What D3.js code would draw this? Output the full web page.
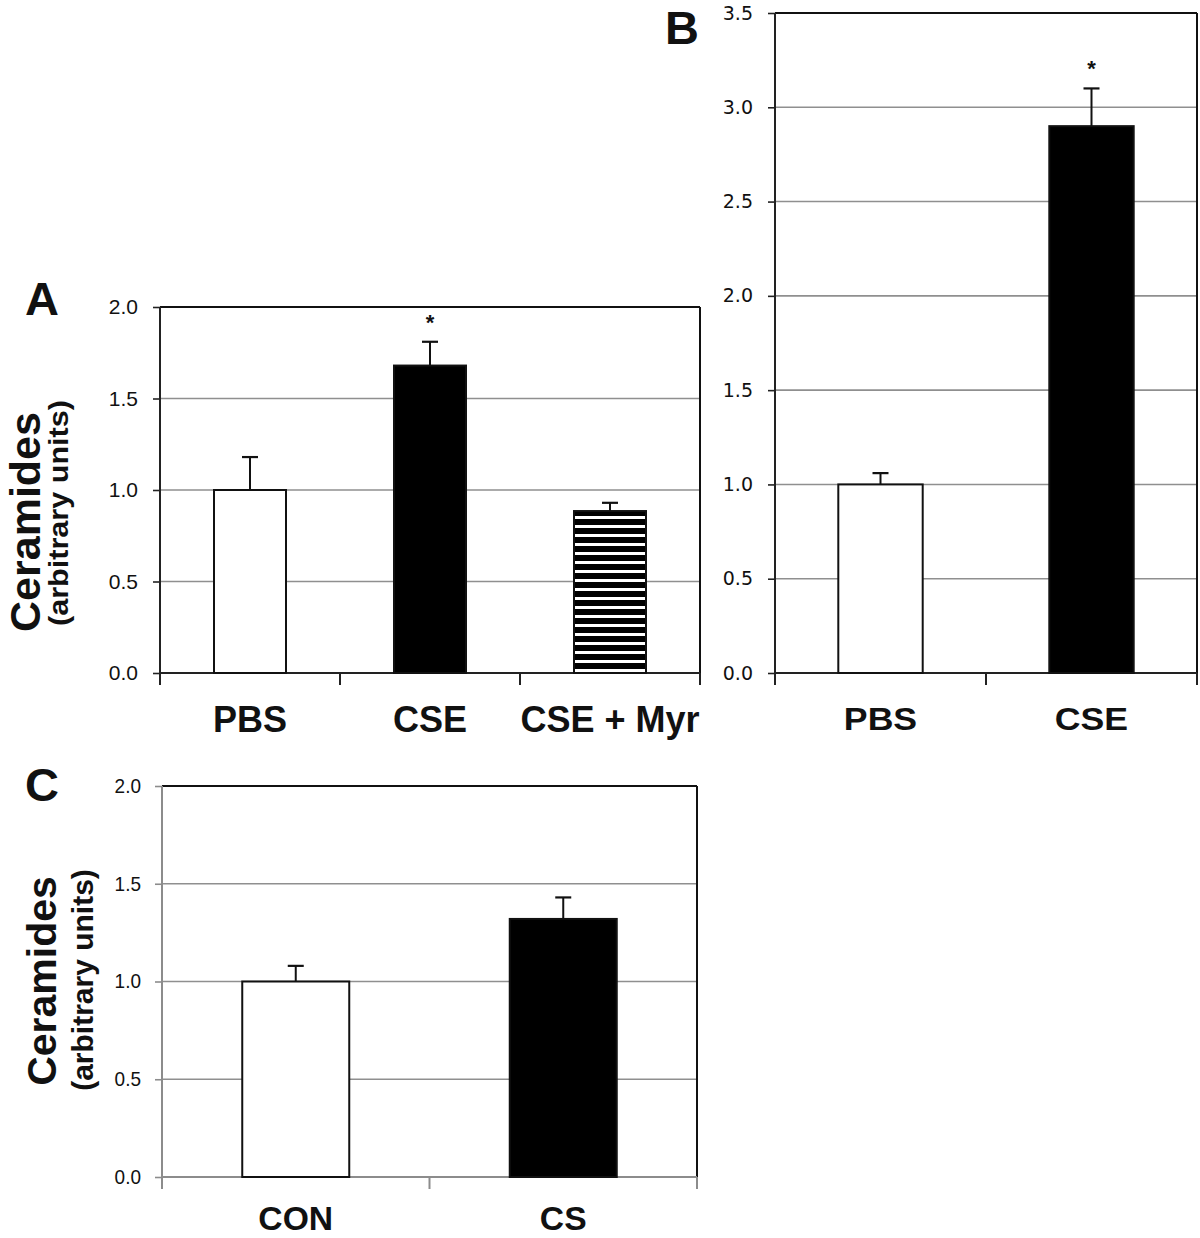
<!DOCTYPE html>
<html><head><meta charset="utf-8">
<script src="https://cdn.jsdelivr.net/npm/d3@7"></script>
<style>
html,body{margin:0;padding:0;background:#fff;}
svg{display:block;}
</style></head>
<body>
<script>
// ---- data ----
const catsA = ["PBS", "CSE", "CSE + Myr"];
const valsA = [1.0, 1.68, 0.885];
const errA  = [0.18, 0.13, 0.045];
const sigA  = [false, true, false];
const fillA = ["white", "black", "stripes"];
const ticksA = [0.0, 0.5, 1.0, 1.5, 2.0];

const catsB = ["PBS", "CSE"];
const valsB = [1.0, 2.9];
const errB  = [0.06, 0.2];
const sigB  = [false, true];
const fillB = ["white", "black"];
const ticksB = [0.0, 0.5, 1.0, 1.5, 2.0, 2.5, 3.0, 3.5];

const catsC = ["CON", "CS"];
const valsC = [1.0, 1.32];
const errC  = [0.08, 0.11];
const sigC  = [false, false];
const fillC = ["white", "black"];
const ticksC = [0.0, 0.5, 1.0, 1.5, 2.0];

const yTitle = "Ceramides";
const ySub = "(arbitrary units)";

const W = 1200, H = 1238;
const svg = d3.select("body").append("svg").attr("width", W).attr("height", H);

const defs = svg.append("defs");
const pat = defs.append("pattern").attr("id", "stripes").attr("patternUnits", "userSpaceOnUse")
  .attr("width", 10).attr("height", 9);
pat.append("rect").attr("width", 10).attr("height", 9).attr("fill", "black");
pat.append("rect").attr("y", 3).attr("width", 10).attr("height", 3).attr("fill", "white");

const SANS = "'Liberation Sans',Arial,Helvetica,sans-serif";
const DEJA = "'DejaVu Sans',sans-serif";

function panel(o) {
  const g = svg.append("g");
  const x = d3.scaleBand().domain(o.cats).range([o.left, o.right]).paddingInner(0.6).paddingOuter(0.3);
  const y = d3.scaleLinear().domain(o.domain).range([o.bottom, o.top]);
  const step = x.step();

  // gridlines
  g.append("g").selectAll("line").data(o.ticks.filter(t => t > o.domain[0] && t < o.domain[1]))
    .join("line").attr("x1", o.left).attr("x2", o.right)
    .attr("y1", d => y(d)).attr("y2", d => y(d))
    .attr("stroke", "#8f8f8f").attr("stroke-width", 1.6);

  // frame top & right
  g.append("line").attr("x1", o.left).attr("x2", o.right).attr("y1", y(o.domain[1])).attr("y2", y(o.domain[1]))
    .attr("stroke", "#111").attr("stroke-width", 2);
  g.append("line").attr("x1", o.right).attr("x2", o.right).attr("y1", y(o.domain[1])).attr("y2", o.bottom)
    .attr("stroke", "#111").attr("stroke-width", 2);

  // y axis
  const yAxis = d3.axisLeft(y).tickValues(o.ticks).tickFormat(d3.format(".1f")).tickSize(7).tickPadding(o.tickPad);
  const ya = g.append("g").attr("transform", `translate(${o.left},0)`).call(yAxis);
  ya.select(".domain").remove();
  ya.selectAll(".tick line").attr("stroke", o.axisColor).attr("stroke-width", 1.6);
  ya.selectAll(".tick text").attr("font-family", o.tickFont).attr("font-size", o.tickSize).attr("fill", "#111")
    .each(function () {
      const x0 = +this.getAttribute("x");
      this.setAttribute("x", x0 / o.tickSX);
      this.setAttribute("transform", `scale(${o.tickSX},1)`);
    });
  g.append("line").attr("x1", o.left).attr("x2", o.left).attr("y1", y(o.domain[1])).attr("y2", o.bottom + 12)
    .attr("stroke", o.axisColor).attr("stroke-width", 2);

  // x axis baseline + category separators
  g.append("line").attr("x1", o.left).attr("x2", o.right).attr("y1", o.bottom).attr("y2", o.bottom)
    .attr("stroke", o.axisColor).attr("stroke-width", 2);
  const seps = o.cats.map((c, i) => x(c) - x.paddingOuter() * step + step);
  g.append("g").selectAll("line").data(seps).join("line")
    .attr("x1", d => d).attr("x2", d => d).attr("y1", o.bottom).attr("y2", o.bottom + 12)
    .attr("stroke", o.axisColor).attr("stroke-width", 2);

  const data = o.cats.map((c, i) => ({c, v: o.vals[i], e: o.errs[i], s: o.sig[i], f: o.fills[i]}));
  // error bars
  const eb = g.append("g");
  data.forEach(d => {
    const cx = x(d.c) + x.bandwidth() / 2;
    eb.append("line").attr("x1", cx).attr("x2", cx).attr("y1", y(d.v)).attr("y2", y(d.v + d.e))
      .attr("stroke", "#111").attr("stroke-width", 2);
    eb.append("line").attr("x1", cx - o.cap).attr("x2", cx + o.cap).attr("y1", y(d.v + d.e)).attr("y2", y(d.v + d.e))
      .attr("stroke", "#111").attr("stroke-width", 2.2);
    if (d.s) {
      eb.append("text").attr("x", cx).attr("y", y(d.v + d.e) - o.starGap).attr("text-anchor", "middle")
        .attr("font-family", SANS).attr("font-weight", "bold").attr("font-size", 22).attr("fill", "#111").text("*");
    }
  });
  // bars
  g.append("g").selectAll("rect").data(data).join("rect")
    .attr("x", d => x(d.c)).attr("width", x.bandwidth())
    .attr("y", d => y(d.v)).attr("height", d => o.bottom - y(d.v))
    .attr("fill", d => d.f === "stripes" ? "url(#stripes)" : d.f)
    .attr("stroke", "#111").attr("stroke-width", 2);

  // category labels
  g.append("g").selectAll("text").data(o.cats).join("text")
    .attr("transform", d => `translate(${x(d) + x.bandwidth() / 2},${o.labelY}) scale(${o.catSX},1)`)
    .attr("text-anchor", "middle")
    .attr("font-family", SANS).attr("font-weight", "bold").attr("font-size", o.catSize).attr("fill", "#111")
    .text(d => d);

  // panel letter
  g.append("text").attr("x", o.letter[0]).attr("y", o.letter[1])
    .attr("font-family", SANS).attr("font-weight", "bold").attr("font-size", 47).attr("fill", "#111").text(o.name);

  // y titles
  if (o.title) {
    const t = o.title;
    g.append("text").attr("transform", `translate(${t.x1},${t.cy1}) rotate(-90)`).attr("text-anchor", "middle")
      .attr("font-family", SANS).attr("font-weight", "bold").attr("font-size", t.s1).attr("fill", "#111").text(yTitle);
    const sub = g.append("text").attr("transform", `translate(${t.x2},${t.cy2}) rotate(-90)`).attr("text-anchor", "middle")
      .attr("font-family", SANS).attr("font-weight", "bold").attr("font-size", t.s2).attr("fill", "#111").text(ySub);
    if (t.len2) sub.attr("textLength", t.len2).attr("lengthAdjust", "spacingAndGlyphs");
  }
}

panel({name: "A", cats: catsA, vals: valsA, errs: errA, sig: sigA, fills: fillA, ticks: ticksA,
  domain: [0, 2], left: 160, right: 700, top: 307, bottom: 673, axisColor: "#222", tickPad: 15,
  tickFont: SANS, tickSize: 21, tickSX: 1.0, catSize: 36, catSX: 1.0, labelY: 732, cap: 8, starGap: 12,
  letter: [25, 315], title: {x1: 40, cy1: 522, x2: 68, cy2: 513, s1: 43, s2: 27, len2: 226}});

panel({name: "B", cats: catsB, vals: valsB, errs: errB, sig: sigB, fills: fillB, ticks: ticksB,
  domain: [0, 3.5], left: 775, right: 1197, top: 13, bottom: 673, axisColor: "#222", tickPad: 15,
  tickFont: DEJA, tickSize: 19, tickSX: 1.0, catSize: 31, catSX: 1.15, labelY: 730, cap: 8, starGap: 12,
  letter: [665, 44], title: null});

panel({name: "C", cats: catsC, vals: valsC, errs: errC, sig: sigC, fills: fillC, ticks: ticksC,
  domain: [0, 2], left: 162, right: 697, top: 786, bottom: 1177, axisColor: "#8c8c8c", tickPad: 14,
  tickFont: SANS, tickSize: 20, tickSX: 0.95, catSize: 34, catSX: 0.99, labelY: 1230, cap: 8, starGap: 12,
  letter: [25, 801], title: {x1: 56, cy1: 981, x2: 93, cy2: 980, s1: 41, s2: 30}});
</script>
</body></html>
